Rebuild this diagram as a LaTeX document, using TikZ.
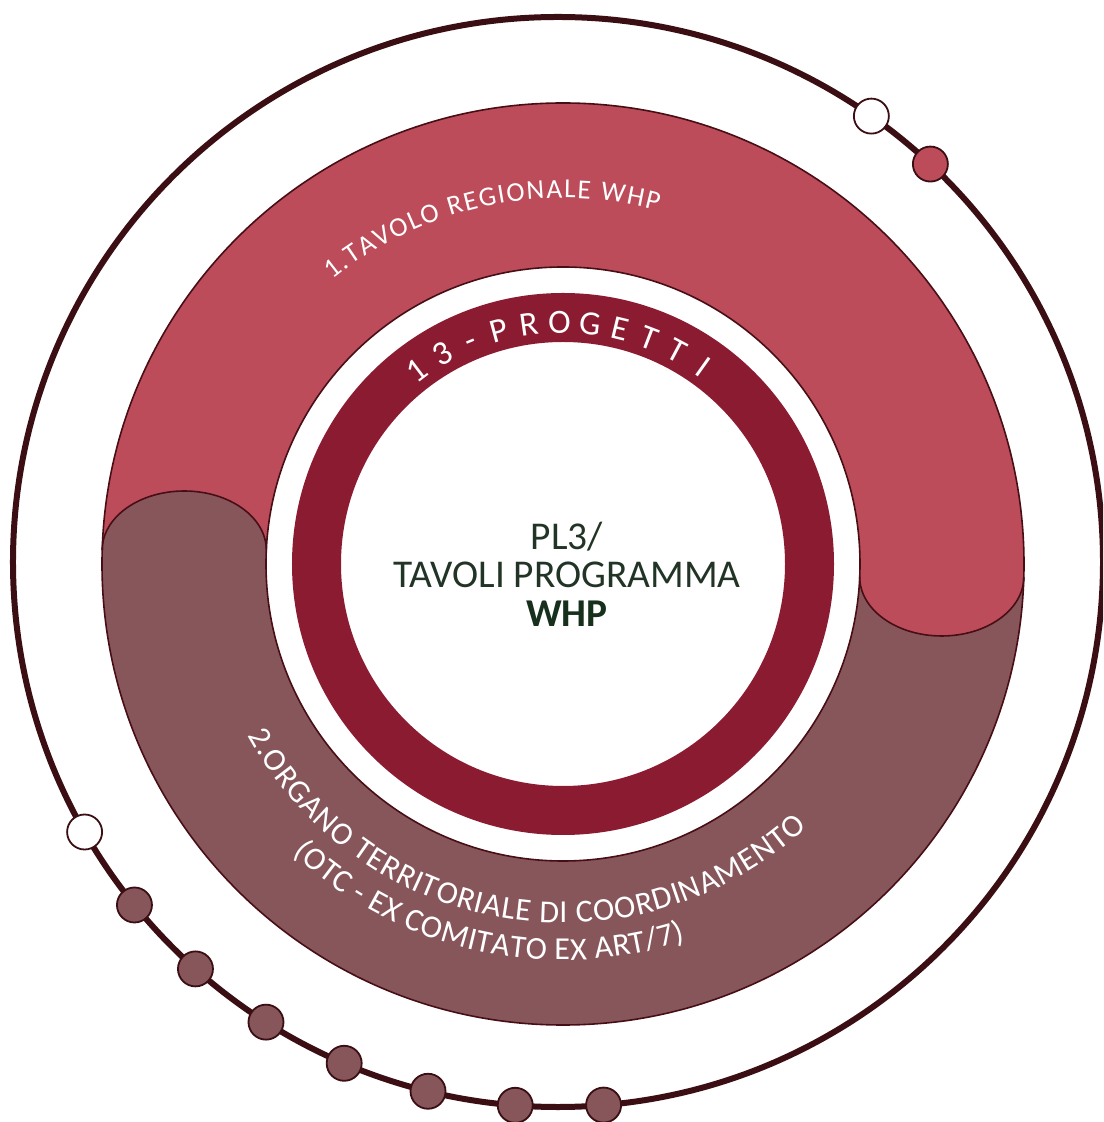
\documentclass[tikz,border=0pt]{standalone}
\usepackage{fontspec}
\setmainfont{Carlito}
\usetikzlibrary{decorations.text}
\definecolor{pinkband}{RGB}{189,76,90}
\definecolor{mauveband}{RGB}{134,86,91}
\definecolor{ringred}{RGB}{139,27,49}
\definecolor{edgecol}{RGB}{72,14,22}
\definecolor{rim}{RGB}{58,14,18}
\definecolor{titlegreen}{RGB}{34,52,38}
\definecolor{boldgreen}{RGB}{22,48,28}
\begin{document}
\begin{tikzpicture}[x=0.5pt,y=0.5pt,
  bead/.style={circle, draw=rim, line width=0.9pt, minimum size=17.5pt, inner sep=0pt},
  ringletter/.style={text=white, font=\fontsize{17}{17}\selectfont, anchor=base, inner sep=0pt},
  bandedge/.style={draw=edgecol, line width=0.8pt},
  arctext/.style={decorate, decoration={text along path, text color=white, text align=fit to path, text={#1}}}]
\useasboundingbox (-563,-558) rectangle (540,564);
\clip (-563,-558) rectangle (540,564);
\coordinate (C) at (0,0);
\coordinate (O) at (-5,2);

% pink band body
\fill[pinkband] (178.26:461) arc[start angle=178.26, end angle=-1.616, radius=461]
  -- (-2.509:297) arc[start angle=-2.509, end angle=177.30, radius=297] -- cycle;
% mauve band body with its left cap
\fill[mauveband] (178.26:461) arc[start angle=180, end angle=0, x radius=82.05, y radius=59]
  arc[start angle=177.30, end angle=357.49, radius=297]
  -- (358.384:461) arc[start angle=358.384, end angle=178.26, radius=461] -- cycle;
% pink band right cap
\fill[pinkband] (460.82,-9) -- (-1.616:461) arc[start angle=0, end angle=-180, x radius=82.05, y radius=59] -- (296.72,-9) -- cycle;
% outlines
\draw[bandedge] (C) circle[radius=461];
\draw[bandedge] (C) circle[radius=297];
\draw[bandedge] (178.26:461) arc[start angle=180, end angle=0, x radius=82.05, y radius=59];
\draw[bandedge] (-1.616:461) arc[start angle=0, end angle=-180, x radius=82.05, y radius=59];

% dark ring
\fill[ringred, even odd rule] (C) circle[radius=271] (C) circle[radius=222];

% outer circle
\draw[rim, line width=3pt] (O) circle[radius=545];

% beads
\foreach \a/\f [count=\i] in {54.9/white, 46.9/pinkband, 209.7/white, 219/mauveband, 228.3/mauveband, 237.6/mauveband, 246.9/mauveband, 256.2/mauveband, 265.5/mauveband, 274.8/mauveband}
  \node[bead, fill=\f] (bead\i) at ([shift={(\a:545)}]O) {};

% 13-PROGETTI
\foreach \ch [count=\i from 0] in {1,3,-,P,R,O,G,E,T,T,I} {
  \pgfmathsetmacro\ang{127.1-7.25*\i}
  \node[ringletter, rotate=\ang-90] (prog\i) at (\ang:231) {\ch};
}

% centre title
\node[align=center, text=titlegreen, font=\fontsize{19.7}{19.3}\selectfont, inner sep=0pt] (title) at (4,-10)
  {PL3/\\TAVOLI PROGRAMMA\\{\color{boldgreen}\bfseries WHP}};

% band labels
\path[arctext={|\fontsize{13.7}{14}\selectfont|1.TAVOLO REGIONALE WHP}]
  (129:366) arc[start angle=129, end angle=75, radius=366];
\path[arctext={|\fontsize{16}{16}\selectfont|2.ORGANO TERRITORIALE DI COORDINAMENTO}]
  (208.5:359) arc[start angle=208.5, end angle=312.8, radius=359];
\path[arctext={|\fontsize{16}{16}\selectfont|(OTC - EX COMITATO EX ART/7)}]
  (227:396) arc[start angle=227, end angle=288, radius=396];
\end{tikzpicture}
\end{document}
